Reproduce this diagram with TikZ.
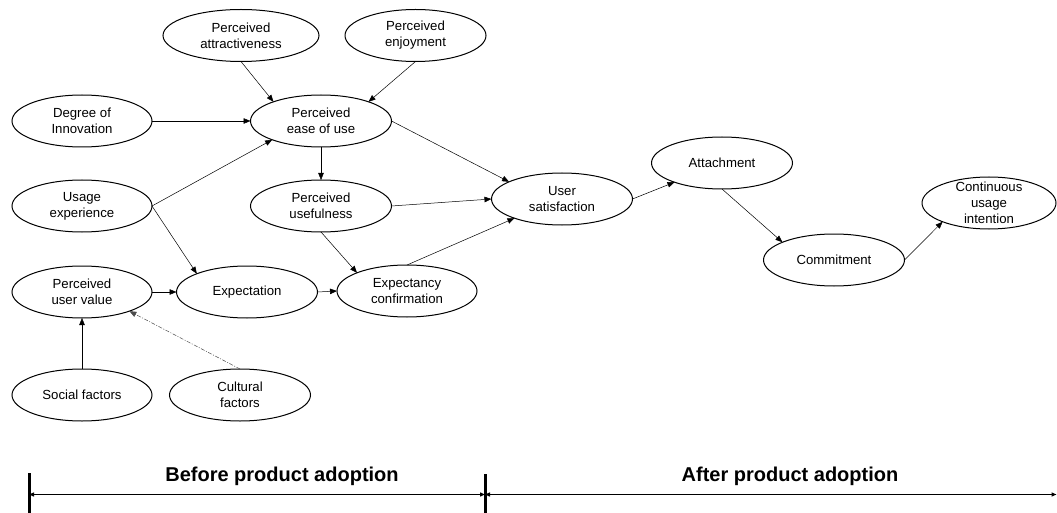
\documentclass[tikz,border=0pt]{standalone}
\usepackage{fontspec}
\setmainfont{Liberation Sans}
\usetikzlibrary{shapes.geometric,arrows.meta}

\tikzset{
  ell/.style={ellipse, draw, line width=1pt, minimum width=141pt,
    minimum height=52pt, inner sep=0pt, outer sep=0pt},
  lbl/.style={font=\fontsize{13.2}{16}\selectfont, align=center, inner sep=0pt},
  conn/.style={-{Triangle[length=7pt,width=5.5pt]}, line width=0.5pt},
  dashdot/.style={conn, draw=black!70, dash pattern=on 4pt off 1.5pt on 1pt off 1.5pt},
  bar/.style={line width=3pt},
  span/.style={{Triangle[length=5pt,width=4pt]}-{Triangle[length=5pt,width=4pt]}, line width=1.8pt},
  phase/.style={font=\fontsize{20}{24}\selectfont\bfseries, anchor=base, inner sep=0pt}
}

\begin{document}
\begin{tikzpicture}[x=1pt, y=-1pt]
\useasboundingbox (0,0) rectangle (1057,513);

% constructs
\node[ell, minimum width=156pt, label={[lbl]center:{Perceived\\attractiveness}}] (pa) at (241,35.5) {};
\node[ell, label={[lbl]center:{Perceived\\enjoyment}}] (pe) at (415.5,35.5) {};
\node[ell, minimum width=140pt, label={[lbl]center:{Degree of\\Innovation}}] (di) at (82,121) {};
\node[ell, label={[lbl]center:{Perceived\\ease of use}}] (peou) at (321,121) {};
\node[ell, minimum width=140pt, label={[lbl]center:{Usage\\experience}}] (ue) at (82,206) {};
\node[ell, label={[lbl]center:{Perceived\\usefulness}}] (pu) at (321,206) {};
\node[ell, minimum width=140pt, label={[lbl]center:{Perceived\\user value}}] (puv) at (82,292) {};
\node[ell, label={[lbl]center:{Expectation}}] (exp) at (247,292) {};
\node[ell, minimum width=140pt, label={[lbl]center:{Expectancy\\confirmation}}] (ec) at (407,291) {};
\node[ell, minimum width=140pt, label={[lbl]center:{Social factors}}] (sf) at (82,395) {};
\node[ell, label={[lbl]center:{Cultural\\factors}}] (cf) at (240,395) {};
\node[ell, label={[lbl]center:{User\\satisfaction}}] (us) at (562,199) {};
\node[ell, label={[lbl]center:{Attachment}}] (att) at (722,163) {};
\node[ell, label={[lbl]center:{Commitment}}] (com) at (834,260) {};
\node[ell, minimum width=134pt, label={[lbl]center:{Continuous\\usage\\intention}}] (cui) at (989,203) {};

% relations
\draw[conn] (pa.south) -- (peou.158);
\draw[conn] (pe.south) -- (peou.22);
\draw[conn] (di.east) -- (peou.west);
\draw[conn] (ue.east) -- (peou.201);
\draw[conn] (ue.east) -- (exp.160);
\draw[conn] (peou.south) -- (pu.north);
\draw[conn] (peou.east) -- (us.162);
\draw[conn] (pu.east) -- (us.west);
\draw[conn] (pu.south) -- (ec.160);
\draw[conn] (ec.north) -- (us.202);
\draw[conn] (puv.east) -- (exp.west);
\draw[conn] (exp.east) -- (ec.west);
\draw[conn] (sf.north) -- (puv.south);
\draw[dashdot] (cf.north) -- (puv.-22);
\draw[conn] (us.east) -- (att.202);
\draw[conn] (att.south) -- (com.161);
\draw[conn] (com.east) -- (cui.202);

% adoption timeline
\coordinate (b0t) at (29,473);
\coordinate (b0b) at (29,513);
\coordinate (b1t) at (485,474);
\coordinate (b1b) at (485,513);
\coordinate (s0) at (29,494.5);
\coordinate (s1) at (485,494.5);
\coordinate (s2) at (1056.5,494.5);
\draw[bar] (b0t) -- (b0b);
\draw[bar] (b1t) -- (b1b);
\draw[span] (s0) -- (s1);
\draw[span] (s1) -- (s2);
\node[phase] (before) at (282,481) {Before product adoption};
\node[phase] (after) at (790,481) {After product adoption};
\end{tikzpicture}
\end{document}
